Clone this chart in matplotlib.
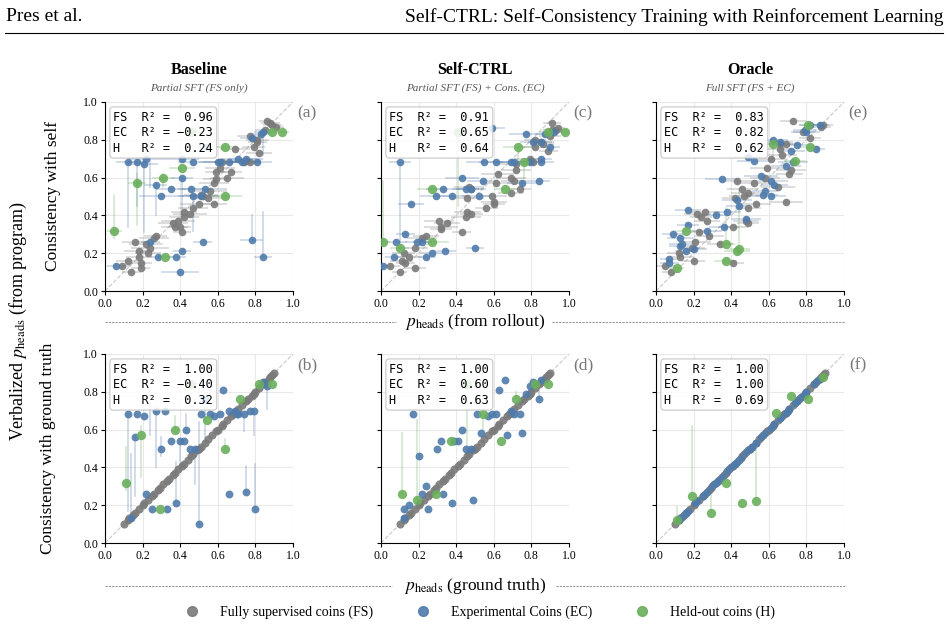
import matplotlib.pyplot as plt
from matplotlib.lines import Line2D

plt.rcParams['font.family'] = ['Liberation Serif', 'DejaVu Serif']
plt.rcParams['mathtext.fontset'] = 'stix'

C_FS = '#7a7a7a'
C_EC = '#4f7bab'
C_H = '#6aaf5c'

# ---------------- data ----------------
# ground-truth p_heads of fully supervised coins (diagonal in bottom row)
fs_gt = [0.10, 0.12, 0.13, 0.15, 0.16, 0.18, 0.20, 0.21, 0.23, 0.25, 0.26, 0.28, 0.29,
         0.31, 0.33, 0.34, 0.36, 0.37, 0.39, 0.41, 0.42, 0.44, 0.46, 0.47, 0.49, 0.50,
         0.51, 0.53, 0.55, 0.57, 0.59, 0.60, 0.62, 0.63, 0.65, 0.67, 0.68, 0.69, 0.71,
         0.73, 0.75, 0.76, 0.78, 0.79, 0.80, 0.82, 0.84, 0.85, 0.87, 0.88, 0.89, 0.90]

# --- Baseline, top (x = rollout, y = verbalized) ---
a_fs_x = [0.09, 0.12, 0.14, 0.16, 0.18, 0.18, 0.19, 0.19, 0.22, 0.24, 0.23, 0.26, 0.27, 0.36, 0.37,
          0.39, 0.40, 0.41, 0.42, 0.42, 0.45, 0.47, 0.50, 0.51, 0.52, 0.55, 0.56, 0.58, 0.58, 0.59,
          0.59, 0.61, 0.62, 0.65, 0.67, 0.69, 0.74, 0.75, 0.77, 0.77, 0.79, 0.81, 0.81, 0.82, 0.85,
          0.86, 0.88, 0.89, 0.91]
a_fs_y = [0.13, 0.16, 0.10, 0.26, 0.21, 0.18, 0.15, 0.12, 0.25, 0.23, 0.20, 0.28, 0.29, 0.36, 0.34,
          0.37, 0.34, 0.31, 0.39, 0.42, 0.41, 0.44, 0.46, 0.51, 0.50, 0.49, 0.53, 0.46, 0.57, 0.59,
          0.63, 0.65, 0.68, 0.60, 0.63, 0.75, 0.68, 0.69, 0.68, 0.82, 0.76, 0.79, 0.80, 0.73, 0.85,
          0.90, 0.89, 0.88, 0.87]
a_fs_xerr = [0.05, 0.06, 0.05, 0.07, 0.08, 0.07, 0.06, 0.05, 0.09, 0.10, 0.07, 0.08, 0.06, 0.08, 0.07,
             0.09, 0.06, 0.05, 0.08, 0.07, 0.09, 0.08, 0.10, 0.09, 0.08, 0.10, 0.09, 0.07, 0.08, 0.07,
             0.06, 0.08, 0.07, 0.09, 0.06, 0.08, 0.07, 0.08, 0.06, 0.07, 0.06, 0.05, 0.06, 0.07, 0.05,
             0.04, 0.05, 0.05, 0.04]
a_ec_x = [0.06, 0.12, 0.17, 0.21, 0.22, 0.24, 0.27, 0.28, 0.30, 0.35, 0.38, 0.40, 0.41, 0.41, 0.41,
          0.46, 0.47, 0.47, 0.51, 0.52, 0.53, 0.54, 0.60, 0.61, 0.66, 0.71, 0.73, 0.75, 0.78, 0.78,
          0.81, 0.83, 0.84, 0.84]
a_ec_y = [0.13, 0.68, 0.68, 0.67, 0.70, 0.26, 0.56, 0.18, 0.50, 0.54, 0.18, 0.10, 0.70, 0.60, 0.21,
          0.54, 0.68, 0.50, 0.50, 0.26, 0.54, 0.76, 0.68, 0.68, 0.68, 0.70, 0.68, 0.70, 0.81, 0.27,
          0.68, 0.83, 0.84, 0.18]
a_ec_xerr = [0.05, 0.06, 0.05, 0.07, 0.10, 0.05, 0.06, 0.04, 0.12, 0.08, 0.05, 0.10, 0.09, 0.06, 0.05,
             0.07, 0.08, 0.08, 0.10, 0.05, 0.12, 0.06, 0.10, 0.09, 0.08, 0.10, 0.07, 0.09, 0.06, 0.06,
             0.08, 0.06, 0.05, 0.05]
a_h_x = [0.05, 0.17, 0.31, 0.41, 0.46, 0.64, 0.64, 0.32, 0.89, 0.94]
a_h_y = [0.32, 0.57, 0.60, 0.65, 0.84, 0.76, 0.50, 0.18, 0.84, 0.84]
a_h_xerr = [0.04, 0.05, 0.06, 0.07, 0.05, 0.06, 0.09, 0.04, 0.05, 0.04]

# --- Self-CTRL, top ---
c_fs_x = [0.05, 0.10, 0.11, 0.12, 0.13, 0.15, 0.18, 0.18, 0.22, 0.24, 0.31, 0.32, 0.32, 0.35, 0.43,
          0.45, 0.46, 0.48, 0.46, 0.47, 0.48, 0.56, 0.59, 0.60, 0.60, 0.61, 0.62, 0.69, 0.71, 0.72,
          0.72, 0.74, 0.69, 0.79, 0.80, 0.81, 0.82, 0.82, 0.85, 0.86, 0.89, 0.90, 0.91, 0.91, 0.93,
          0.94]
c_fs_y = [0.13, 0.10, 0.16, 0.20, 0.15, 0.18, 0.12, 0.23, 0.28, 0.29, 0.37, 0.34, 0.33, 0.36, 0.31,
          0.39, 0.42, 0.41, 0.49, 0.55, 0.54, 0.44, 0.50, 0.47, 0.46, 0.57, 0.62, 0.60, 0.58, 0.64,
          0.67, 0.54, 0.52, 0.70, 0.69, 0.68, 0.76, 0.80, 0.79, 0.78, 0.74, 0.82, 0.85, 0.89, 0.85,
          0.86]
c_fs_xerr = [0.05, 0.04, 0.06, 0.06, 0.05, 0.07, 0.06, 0.07, 0.08, 0.07, 0.08, 0.09, 0.06, 0.07, 0.05,
             0.08, 0.07, 0.06, 0.09, 0.08, 0.07, 0.06, 0.08, 0.07, 0.06, 0.08, 0.09, 0.08, 0.07, 0.08,
             0.09, 0.06, 0.07, 0.08, 0.07, 0.06, 0.07, 0.06, 0.07, 0.06, 0.05, 0.06, 0.05, 0.05, 0.04,
             0.04]
c_ec_x = [0.01, 0.07, 0.08, 0.10, 0.13, 0.16, 0.19, 0.22, 0.24, 0.27, 0.29, 0.33, 0.34, 0.38, 0.43,
          0.45, 0.48, 0.50, 0.52, 0.54, 0.55, 0.59, 0.61, 0.69, 0.71, 0.75, 0.77, 0.79, 0.81, 0.84,
          0.85, 0.85, 0.85, 0.87, 0.90, 0.92]
c_ec_y = [0.13, 0.18, 0.26, 0.68, 0.30, 0.46, 0.26, 0.26, 0.18, 0.20, 0.50, 0.54, 0.21, 0.50, 0.60,
          0.54, 0.54, 0.23, 0.50, 0.58, 0.68, 0.86, 0.68, 0.68, 0.68, 0.57, 0.83, 0.68, 0.79, 0.58,
          0.68, 0.70, 0.79, 0.83, 0.76, 0.84]
c_ec_xerr = [0.04, 0.05, 0.06, 0.06, 0.05, 0.07, 0.06, 0.05, 0.05, 0.06, 0.08, 0.09, 0.06, 0.08, 0.09,
             0.07, 0.08, 0.05, 0.09, 0.08, 0.10, 0.07, 0.09, 0.08, 0.07, 0.08, 0.09, 0.08, 0.07, 0.06,
             0.07, 0.06, 0.06, 0.05, 0.05, 0.05]
c_h_x = [0.01, 0.10, 0.27, 0.27, 0.41, 0.66, 0.73, 0.76, 0.89, 0.98]
c_h_y = [0.26, 0.23, 0.26, 0.54, 0.84, 0.54, 0.76, 0.68, 0.84, 0.84]
c_h_xerr = [0.04, 0.05, 0.09, 0.08, 0.05, 0.06, 0.08, 0.06, 0.05, 0.03]

# --- Oracle, top ---
e_fs_x = [0.05, 0.08, 0.12, 0.13, 0.20, 0.19, 0.21, 0.22, 0.24, 0.26, 0.27, 0.23, 0.28, 0.34, 0.41,
          0.41, 0.43, 0.46, 0.42, 0.47, 0.49, 0.49, 0.49, 0.48, 0.52, 0.53, 0.58, 0.59, 0.61, 0.65,
          0.66, 0.67, 0.66, 0.69, 0.69, 0.71, 0.72, 0.73, 0.78, 0.82, 0.88, 0.89]
e_fs_y = [0.13, 0.10, 0.20, 0.18, 0.16, 0.23, 0.26, 0.41, 0.39, 0.42, 0.37, 0.31, 0.29, 0.25, 0.34,
          0.15, 0.58, 0.54, 0.49, 0.50, 0.52, 0.44, 0.36, 0.37, 0.57, 0.46, 0.60, 0.65, 0.70, 0.55,
          0.75, 0.72, 0.78, 0.78, 0.47, 0.62, 0.64, 0.90, 0.84, 0.81, 0.87, 0.88]
e_fs_xerr = [0.05, 0.05, 0.06, 0.07, 0.06, 0.07, 0.08, 0.07, 0.06, 0.08, 0.07, 0.06, 0.08, 0.07, 0.08,
             0.06, 0.09, 0.08, 0.07, 0.08, 0.09, 0.07, 0.06, 0.07, 0.09, 0.08, 0.08, 0.09, 0.08, 0.09,
             0.07, 0.08, 0.07, 0.08, 0.09, 0.07, 0.08, 0.07, 0.06, 0.06, 0.05, 0.05]
e_ec_x = [0.07, 0.07, 0.09, 0.13, 0.13, 0.14, 0.16, 0.17, 0.17, 0.20, 0.27, 0.32, 0.35, 0.36, 0.38,
          0.43, 0.44, 0.48, 0.56, 0.57, 0.58, 0.61, 0.61, 0.63, 0.49, 0.52, 0.62, 0.66, 0.69, 0.72,
          0.73, 0.75, 0.79, 0.80, 0.82, 0.85, 0.87]
e_ec_y = [0.17, 0.15, 0.30, 0.28, 0.24, 0.25, 0.21, 0.43, 0.35, 0.22, 0.32, 0.40, 0.59, 0.34, 0.42,
          0.48, 0.45, 0.38, 0.61, 0.51, 0.53, 0.58, 0.50, 0.56, 0.71, 0.69, 0.80, 0.79, 0.66, 0.74,
          0.68, 0.77, 0.85, 0.84, 0.88, 0.75, 0.88]
e_ec_xerr = [0.05, 0.05, 0.06, 0.07, 0.06, 0.07, 0.06, 0.07, 0.06, 0.07, 0.08, 0.07, 0.09, 0.08, 0.07,
             0.08, 0.07, 0.08, 0.09, 0.08, 0.07, 0.09, 0.08, 0.07, 0.08, 0.09, 0.08, 0.07, 0.08, 0.07,
             0.08, 0.07, 0.06, 0.07, 0.06, 0.05, 0.05]
e_h_x = [0.11, 0.16, 0.37, 0.37, 0.43, 0.44, 0.62, 0.74, 0.81, 0.82]
e_h_y = [0.12, 0.32, 0.16, 0.25, 0.21, 0.22, 0.78, 0.69, 0.88, 0.76]
e_h_xerr = [0.04, 0.06, 0.06, 0.05, 0.07, 0.06, 0.07, 0.06, 0.05, 0.05]

# --- bottom row (x = ground truth, y = verbalized) ---
b_ec_x = [0.12, 0.14, 0.16, 0.17, 0.21, 0.22, 0.25, 0.27, 0.30, 0.32, 0.33, 0.35, 0.38, 0.40, 0.42,
          0.43, 0.45, 0.48, 0.50, 0.51, 0.53, 0.56, 0.58, 0.61, 0.63, 0.66, 0.66, 0.69, 0.70, 0.71,
          0.74, 0.75, 0.77, 0.79, 0.80, 0.84, 0.86]
b_ec_y = [0.68, 0.13, 0.56, 0.68, 0.67, 0.26, 0.18, 0.70, 0.50, 0.70, 0.18, 0.54, 0.21, 0.54, 0.54,
          0.60, 0.50, 0.50, 0.10, 0.68, 0.76, 0.68, 0.67, 0.68, 0.81, 0.26, 0.70, 0.70, 0.68, 0.68,
          0.68, 0.27, 0.70, 0.70, 0.18, 0.85, 0.83]
b_h_x = [0.11, 0.19, 0.37, 0.54, 0.46, 0.72, 0.64, 0.29, 0.82, 0.89]
b_h_y = [0.32, 0.57, 0.60, 0.65, 0.84, 0.76, 0.50, 0.18, 0.84, 0.84]

d_ec_x = [0.12, 0.12, 0.15, 0.17, 0.20, 0.22, 0.24, 0.25, 0.30, 0.32, 0.33, 0.38, 0.39, 0.41, 0.43,
          0.45, 0.48, 0.49, 0.51, 0.53, 0.57, 0.59, 0.61, 0.63, 0.66, 0.67, 0.69, 0.71, 0.74, 0.75,
          0.77, 0.79, 0.81, 0.84, 0.85]
d_ec_y = [0.18, 0.13, 0.20, 0.68, 0.46, 0.26, 0.30, 0.18, 0.50, 0.54, 0.26, 0.21, 0.54, 0.54, 0.60,
          0.50, 0.50, 0.23, 0.68, 0.58, 0.67, 0.68, 0.68, 0.81, 0.86, 0.57, 0.70, 0.68, 0.68, 0.58,
          0.79, 0.83, 0.85, 0.76, 0.86]
d_h_x = [0.11, 0.19, 0.29, 0.37, 0.46, 0.54, 0.64, 0.72, 0.82, 0.89]
d_h_y = [0.26, 0.23, 0.26, 0.54, 0.84, 0.68, 0.54, 0.76, 0.84, 0.84]

f_h_x = [0.11, 0.19, 0.29, 0.37, 0.46, 0.53, 0.64, 0.72, 0.81, 0.89]
f_h_y = [0.12, 0.25, 0.16, 0.32, 0.21, 0.22, 0.69, 0.78, 0.76, 0.88]

# vertical uncertainty ranges (group, x, y_low, y_high)
a_segs = [('EC', 0.12, 0.34, 0.68), ('EC', 0.17, 0.45, 0.68), ('EC', 0.21, 0.31, 0.67),
          ('EC', 0.22, 0.70, 0.80), ('EC', 0.24, 0.55, 0.80), ('EC', 0.27, 0.40, 0.56),
          ('EC', 0.41, 0.38, 0.60), ('EC', 0.47, 0.32, 0.50), ('EC', 0.78, 0.27, 0.40),
          ('EC', 0.84, 0.18, 0.42), ('EC', 0.84, 0.72, 0.83),
          ('H', 0.05, 0.28, 0.51), ('H', 0.17, 0.35, 0.62), ('H', 0.31, 0.55, 0.62)]
b_segs = [('EC', 0.12, 0.17, 0.68), ('EC', 0.14, 0.13, 0.47), ('EC', 0.16, 0.25, 0.56),
          ('EC', 0.24, 0.57, 0.81), ('EC', 0.27, 0.40, 0.70), ('EC', 0.30, 0.46, 0.56),
          ('EC', 0.38, 0.21, 0.43), ('EC', 0.40, 0.38, 0.54), ('EC', 0.43, 0.60, 0.68),
          ('EC', 0.48, 0.31, 0.50), ('EC', 0.50, 0.10, 0.64), ('EC', 0.53, 0.50, 0.76),
          ('EC', 0.74, 0.59, 0.68), ('EC', 0.75, 0.27, 0.41), ('EC', 0.79, 0.57, 0.70),
          ('EC', 0.80, 0.18, 0.42), ('EC', 0.86, 0.71, 0.83),
          ('H', 0.11, 0.28, 0.51), ('H', 0.19, 0.35, 0.62), ('H', 0.37, 0.60, 0.67),
          ('H', 0.64, 0.50, 0.55)]
c_segs = [('EC', 0.10, 0.23, 0.68), ('H', 0.01, 0.26, 0.58), ('H', 0.41, 0.45, 0.84),
          ('H', 0.73, 0.68, 0.76), ('H', 0.76, 0.60, 0.68)]
d_segs = [('EC', 0.84, 0.76, 0.85), ('H', 0.11, 0.26, 0.58), ('H', 0.19, 0.23, 0.65),
          ('H', 0.46, 0.50, 0.84), ('H', 0.54, 0.60, 0.68), ('H', 0.72, 0.76, 0.80)]
e_segs = [('H', 0.37, 0.25, 0.44), ('H', 0.44, 0.21, 0.53), ('H', 0.62, 0.69, 0.78),
          ('H', 0.16, 0.32, 0.36)]
f_segs = [('H', 0.11, 0.12, 0.19), ('H', 0.19, 0.25, 0.62), ('H', 0.29, 0.16, 0.28),
          ('H', 0.53, 0.22, 0.50)]

r2_vals = {
    'a': (0.96, -0.23, 0.24), 'c': (0.91, 0.65, 0.64), 'e': (0.83, 0.82, 0.62),
    'b': (1.00, -0.40, 0.32), 'd': (1.00, 0.60, 0.63), 'f': (1.00, 1.00, 0.69),
}
titles = ['Baseline', 'Self-CTRL', 'Oracle']
subtitles = ['Partial SFT (FS only)', 'Partial SFT (FS) + Cons. (EC)', 'Full SFT (FS + EC)']

COLORS = {'FS': C_FS, 'EC': C_EC, 'H': C_H}

# ---------------- figure ----------------
fig = plt.figure(figsize=(9.48, 6.29), dpi=100)

lefts = [105 / 948, 381 / 948, 656 / 948]
W = 188 / 948
tops_b = [1 - 291 / 629, 1 - 543 / 629]
H = 189 / 629


def setup(ax, col):
    ax.set_xlim(0, 1)
    ax.set_ylim(0, 1)
    ticks = [0.0, 0.2, 0.4, 0.6, 0.8, 1.0]
    ax.set_xticks(ticks)
    ax.set_yticks(ticks)
    ax.set_xticklabels([f'{t:.1f}' for t in ticks])
    if col == 0:
        ax.set_yticklabels([f'{t:.1f}' for t in ticks])
    else:
        ax.set_yticklabels([])
    ax.tick_params(labelsize=8.5, length=3, width=0.8, pad=2)
    ax.grid(color='#e9e9e9', linewidth=0.8, zorder=0)
    ax.set_axisbelow(True)
    for s in ['top', 'right']:
        ax.spines[s].set_visible(False)
    ax.plot([0, 1], [0, 1], ls='--', color='#c8c8c8', lw=0.8, zorder=1)


def r2_box(ax, key):
    names = ['FS', 'EC', 'H']
    lines = [f'{n:<4}R\u00b2 = {v:5.2f}'.replace('-', '\u2212') for n, v in zip(names, r2_vals[key])]
    ax.text(0.045, 0.955, '\n'.join(lines), transform=ax.transAxes, va='top', ha='left',
            family='DejaVu Sans Mono', fontsize=8.6, linespacing=1.25, zorder=6,
            bbox=dict(boxstyle='round,pad=0.3', fc='white', ec='#bdbdbd', lw=0.8, alpha=0.85))
    ax.text(1.075, 0.94, f'({key})', transform=ax.transAxes, ha='center', va='center',
            fontsize=12.5, color='#777777')


def segs(ax, seg_list):
    for g, x, lo, hi in seg_list:
        ax.plot([x, x], [lo, hi], color=COLORS[g], alpha=0.3, lw=1.2, zorder=2)


top_data = [
    ('a', (a_fs_x, a_fs_y, a_fs_xerr), (a_ec_x, a_ec_y, a_ec_xerr), (a_h_x, a_h_y, a_h_xerr), a_segs),
    ('c', (c_fs_x, c_fs_y, c_fs_xerr), (c_ec_x, c_ec_y, c_ec_xerr), (c_h_x, c_h_y, c_h_xerr), c_segs),
    ('e', (e_fs_x, e_fs_y, e_fs_xerr), (e_ec_x, e_ec_y, e_ec_xerr), (e_h_x, e_h_y, e_h_xerr), e_segs),
]
bottom_data = [
    ('b', (b_ec_x, b_ec_y), (b_h_x, b_h_y), b_segs),
    ('d', (d_ec_x, d_ec_y), (d_h_x, d_h_y), d_segs),
    ('f', (b_ec_x, b_ec_x), (f_h_x, f_h_y), f_segs),
]

for col in range(3):
    # top row
    ax = fig.add_axes([lefts[col], tops_b[0], W, H])
    setup(ax, col)
    key, fs, ec, hh, sl = top_data[col]
    segs(ax, sl)
    for (x, y, xe), c, s in [(fs, C_FS, 30), (ec, C_EC, 30), (hh, C_H, 45)]:
        ax.errorbar(x, y, xerr=xe, fmt='none', ecolor=c, alpha=0.3, elinewidth=1.2, zorder=2)
    for (x, y, xe), c, s in [(fs, C_FS, 30), (ec, C_EC, 30), (hh, C_H, 45)]:
        ax.scatter(x, y, s=s, color=c, alpha=0.9, linewidths=0, zorder=3)
    r2_box(ax, key)
    ax.text(0.5, 1.17, titles[col], transform=ax.transAxes, ha='center', va='center',
            fontsize=11.5, fontweight='bold')
    ax.text(0.5, 1.075, subtitles[col], transform=ax.transAxes, ha='center', va='center',
            fontsize=8, style='italic', color='#555555')

    # bottom row
    ax = fig.add_axes([lefts[col], tops_b[1], W, H])
    setup(ax, col)
    key, ec, hh, sl = bottom_data[col]
    segs(ax, sl)
    ax.scatter(fs_gt, fs_gt, s=34, color=C_FS, alpha=0.9, linewidths=0, zorder=3)
    ax.scatter(ec[0], ec[1], s=32, color=C_EC, alpha=0.9, linewidths=0, zorder=3)
    ax.scatter(hh[0], hh[1], s=45, color=C_H, alpha=0.9, linewidths=0, zorder=4)
    r2_box(ax, key)

# header
fig.text(0.006, 0.973, 'Pres et al.', fontsize=14, va='center', ha='left')
fig.text(0.995, 0.973, 'Self-CTRL: Self-Consistency Training with Reinforcement Learning',
         fontsize=14, va='center', ha='right')
fig.add_artist(Line2D([0.005, 0.995], [0.948, 0.948], transform=fig.transFigure,
                      color='black', lw=0.8))

# axis labels
fig.text(0.019, 0.49, r'Verbalized $p_{\mathrm{heads}}$ (from program)', rotation=90,
         fontsize=13, va='center', ha='center')
fig.text(0.056, tops_b[0] + H / 2, 'Consistency with self', rotation=90,
         fontsize=12.5, va='center', ha='center')
fig.text(0.051, tops_b[1] + H / 2, 'Consistency with ground truth', rotation=90,
         fontsize=12.5, va='center', ha='center')


def dashed_label(text, y, gap_l, gap_r):
    fig.text(475 / 948, y, text, fontsize=12.5, ha='center', va='center')
    for x0, x1 in [(105 / 948, gap_l / 948), (gap_r / 948, 845 / 948)]:
        fig.add_artist(Line2D([x0, x1], [y, y], transform=fig.transFigure,
                              color='#999999', lw=0.8, ls=(0, (2, 1))))


dashed_label(r'$p_{\mathrm{heads}}$ (from rollout)', 1 - 322 / 629, 396, 552)
dashed_label(r'$p_{\mathrm{heads}}$ (ground truth)', 1 - 586 / 629, 392, 556)

# legend
handles = [Line2D([], [], marker='o', ls='none', color=c, markersize=7, alpha=0.9)
           for c in [C_FS, C_EC, C_H]]
fig.legend(handles, ['Fully supervised coins (FS)', 'Experimental Coins (EC)', 'Held-out coins (H)'],
           loc='center', bbox_to_anchor=(0.503, 1 - 612 / 629), ncol=3, frameon=False,
           fontsize=10, columnspacing=2.6, handletextpad=1.0)

fig.savefig('out.png', dpi=100, facecolor='white')
